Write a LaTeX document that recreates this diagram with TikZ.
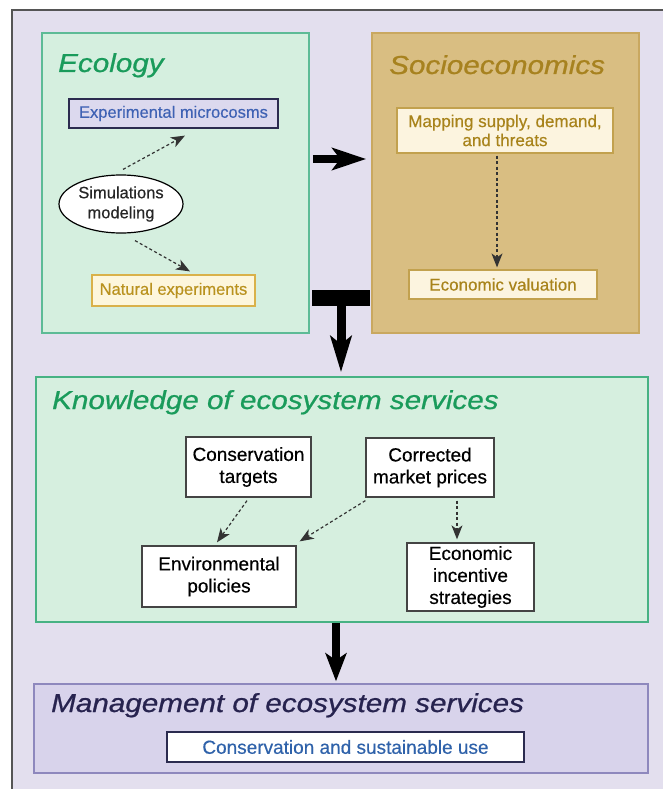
\documentclass[tikz,border=0pt]{standalone}
\usepackage{fontspec}
\setmainfont[FakeBold=0.4]{Liberation Sans}
\newfontfamily\titlefont[FakeStretch=1.14,FakeBold=0.8]{Liberation Sans}
\usetikzlibrary{arrows.meta,shapes.geometric}
\definecolor{bgl}{HTML}{E3DFEE}
\definecolor{outerc}{HTML}{555555}
\definecolor{ecofill}{HTML}{D5EFDF}
\definecolor{ecobord}{HTML}{5DBB96}
\definecolor{greent}{HTML}{1A9B5B}
\definecolor{microfill}{HTML}{DCD9EE}
\definecolor{navyb}{HTML}{2B2B4F}
\definecolor{bluet}{HTML}{3F62B4}
\definecolor{creamfill}{HTML}{FDF6DC}
\definecolor{goldb}{HTML}{D9B14A}
\definecolor{goldt}{HTML}{B9921F}
\definecolor{sociofill}{HTML}{D9BE82}
\definecolor{sociobord}{HTML}{C9A860}
\definecolor{sociot}{HTML}{A7821F}
\definecolor{mapfill}{HTML}{FCF4DF}
\definecolor{mapbord}{HTML}{C2A14E}
\definecolor{mapt}{HTML}{A8831B}
\definecolor{knowfill}{HTML}{D6EFDF}
\definecolor{knowbord}{HTML}{47B283}
\definecolor{mgfill}{HTML}{D8D3EB}
\definecolor{mgbord}{HTML}{8E88BD}
\definecolor{mgt}{HTML}{27234F}
\definecolor{csut}{HTML}{2F62AA}
\definecolor{kbord}{HTML}{444444}
\definecolor{darrow}{HTML}{333333}
\begin{document}
\begin{tikzpicture}[x=1pt,y=-1pt,
  container/.style={draw, line width=1.5pt, inner sep=0pt},
  ttl/.style={anchor=base west, inner sep=0pt, font=\titlefont\itshape\fontsize{26}{30}\selectfont},
  ecoinner/.style={draw, line width=1.2pt, inner sep=0pt, align=center, font=\fontsize{16.5}{20}\selectfont},
  socinner/.style={draw=mapbord, fill=mapfill, text=mapt, line width=1.2pt, inner sep=0pt, align=center, font=\fontsize{17}{19}\selectfont},
  knowinner/.style={draw=kbord, fill=white, line width=1.3pt, inner sep=0pt, align=center, font=\fontsize{19}{22}\selectfont},
  dasharrow/.style={draw=darrow, line width=1.2pt, dash pattern=on 3pt off 2.5pt, -{Stealth[length=14pt,width=11pt,inset=4pt]}},
  bigarrow/.style={draw=black, line width=8.5pt, -{Stealth[length=34pt,width=22pt,inset=8pt]}}
]
\useasboundingbox (0,0) rectangle (662,789);
\fill[white] (0,0) rectangle (662,789);
\filldraw[fill=bgl, draw=outerc, line width=1.5pt] (12,10) rectangle (664,791);

% containers
\node[container, draw=ecobord, fill=ecofill, minimum width=267pt, minimum height=300pt] (eco) at (175.5,183) {};
\node[container, draw=sociobord, fill=sociofill, minimum width=267pt, minimum height=300pt] (socio) at (505.5,183) {};
\node[container, draw=knowbord, fill=knowfill, minimum width=612pt, minimum height=245pt] (know) at (342,499.5) {};
\node[container, draw=mgbord, fill=mgfill, minimum width=614pt, minimum height=89pt] (mgmt) at (341,728.5) {};

% titles
\node[ttl, text=greent] (ecot) at (58,72) {Ecology};
\node[ttl, text=sociot] (sociot) at (389,74) {Socioeconomics};
\node[ttl, text=greent] (knowt) at (52,409) {Knowledge of ecosystem services};
\node[ttl, text=mgt] (mgmtt) at (51,712) {Management of ecosystem services};

% ecology inner
\node[ecoinner, draw=navyb, fill=microfill, text=bluet, minimum width=209pt, minimum height=29pt] (micro) at (173.5,113.5) {Experimental microcosms};
\node[ecoinner, ellipse, draw=black, fill=white, text=black!85, minimum width=124pt, minimum height=58pt] (sim) at (121,204) {Simulations\\modeling};
\node[ecoinner, draw=goldb, fill=creamfill, text=goldt, minimum width=163pt, minimum height=31pt] (nat) at (173.5,290.5) {Natural experiments};

% socio inner
\node[socinner, minimum width=216pt, minimum height=45pt] (map) at (505,130.5) {Mapping supply, demand,\\and threats};
\node[socinner, minimum width=188pt, minimum height=29pt] (val) at (503,284.5) {Economic valuation};

% knowledge inner
\node[knowinner, minimum width=125pt, minimum height=60pt] (ct) at (248.5,467) {Conservation\\targets};
\node[knowinner, minimum width=128pt, minimum height=59pt] (cmp) at (430,467.5) {Corrected\\market prices};
\node[knowinner, minimum width=154pt, minimum height=61pt] (env) at (219,576.5) {Environmental\\policies};
\node[knowinner, minimum width=127pt, minimum height=68pt] (eis) at (470.5,577) {Economic\\incentive\\strategies};

% management inner
\node[knowinner, draw=navyb, text=csut, minimum width=357pt, minimum height=30pt] (csu) at (345.5,747) {Conservation and sustainable use};

% dashed arrows
\draw[dasharrow] ([shift={(2,-5)}]sim.north) -- ([shift={(11.5,7)}]micro.south);
\draw[dasharrow] ([shift={(14,7)}]sim.south) -- ([shift={(16.5,-3)}]nat.north);
\draw[dasharrow] ([shift={(-8,2)}]map.south) -- ([shift={(-6,-2)}]val.north);
\draw[dasharrow] ([shift={(-1.5,3)}]ct.south) -- ([shift={(-2,-3)}]env.north);
\draw[dasharrow] ([shift={(0,3)}]cmp.south west) -- ([shift={(3,-4)}]env.north east);
\draw[dasharrow] ([shift={(27,3)}]cmp.south) -- ([shift={(-13.5,-3)}]eis.north);

% thick arrows
\draw[bigarrow] ([shift={(3,-24)}]eco.east) -- ([shift={(-5,-24)}]socio.west);
\node[fill=black, inner sep=0pt, minimum width=58pt, minimum height=16pt] (tbar) at (341,298) {};
\draw[bigarrow, line width=9pt, -{Stealth[length=36pt,width=21pt,inset=8pt]}] ([shift={(0,-1)}]tbar.south) -- ([shift={(-1,-4)}]know.north);
\draw[bigarrow, -{Stealth[length=28pt,width=21pt,inset=7pt]}] ([shift={(-6,0)}]know.south) -- ([shift={(-5,-2)}]mgmt.north);
\end{tikzpicture}
\end{document}
